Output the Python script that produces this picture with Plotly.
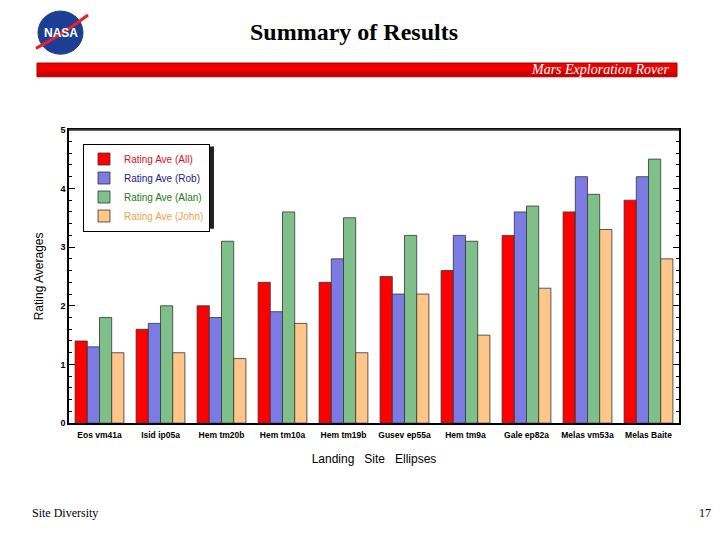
import plotly.graph_objects as go

sites = ["Eos vm41a", "Isid ip05a", "Hem tm20b", "Hem tm10a", "Hem tm19b",
         "Gusev ep55a", "Hem tm9a", "Gale ep82a", "Melas vm53a", "Melas Baite"]
ave_all = [1.4, 1.6, 2.0, 2.4, 2.4, 2.5, 2.6, 3.2, 3.6, 3.8]
ave_rob = [1.3, 1.7, 1.8, 1.9, 2.8, 2.2, 3.2, 3.6, 4.2, 4.2]
ave_alan = [1.8, 2.0, 3.1, 3.6, 3.5, 3.2, 3.1, 3.7, 3.9, 4.5]
ave_john = [1.2, 1.2, 1.1, 1.7, 1.2, 2.2, 1.5, 2.3, 3.3, 2.8]

series_names = ["Rating Ave (All)", "Rating Ave (Rob)", "Rating Ave (Alan)", "Rating Ave (John)"]
series_vals = [ave_all, ave_rob, ave_alan, ave_john]
bar_colors = ["#FF0000", "#7B7BE3", "#7FC08A", "#FFC68A"]
text_colors = ["#E0101A", "#1A1A8C", "#1A7A1A", "#F0A050"]

# page has an 8px body margin; figure is sized so it ends at the window edge
OFF = 8
W, H = 720 - OFF, 540 - OFF
def px(x): return (x - OFF) / W
def py(y): return 1 - (y - OFF) / H

fig = go.Figure()
for name, vals, bc, tc in zip(series_names, series_vals, bar_colors, text_colors):
    fig.add_trace(go.Bar(
        x=sites, y=vals,
        name=f"<span style='color:{tc}'>{name}</span>",
        marker=dict(color=bc, line=dict(color="#333333", width=0.8)),
    ))

PT, PB = 127, 426  # plot frame top / bottom
shapes = []
# legend shadow
shapes.append(dict(type="rect", xref="paper", yref="paper",
                   x0=px(86), x1=px(86 + 128), y0=py(144 + 84), y1=py(144),
                   fillcolor="#222222", line=dict(width=0), layer="above"))
# red header bar
shapes.append(dict(type="rect", xref="paper", yref="paper",
                   x0=px(37), x1=px(677), y0=py(73), y1=py(59),
                   fillcolor="#EE0000", line=dict(color="#A00000", width=1)))
shapes.append(dict(type="rect", xref="paper", yref="paper",
                   x0=px(37.5), x1=px(676.5), y0=py(72.5), y1=py(68),
                   fillcolor="#C80000", line=dict(width=0)))
# NASA logo circle
shapes.append(dict(type="circle", xref="paper", yref="paper",
                   x0=px(38), x1=px(83), y0=py(50), y1=py(6),
                   fillcolor="#1C3F94", line=dict(color="#1C3F94", width=1)))
shapes.append(dict(type="path", xref="paper", yref="paper",
                   path=f"M {px(36)},{py(44)} Q {px(62)},{py(30)} {px(88)},{py(10)}",
                   line=dict(color="#E8202A", width=3)))
# thicker top frame line
shapes.append(dict(type="line", xref="paper", yref="paper",
                   x0=px(69), x1=px(679), y0=py(PT), y1=py(PT),
                   line=dict(color="#333333", width=2.2)))

annotations = [
    dict(text="<b>Summary of Results</b>", x=px(354), y=py(27), xref="paper", yref="paper",
         showarrow=False, font=dict(family="Liberation Serif", size=24, color="black"),
         xanchor="center", yanchor="middle"),
    dict(text="<i>Mars Exploration Rover</i>", x=px(671), y=py(66), xref="paper", yref="paper",
         showarrow=False, font=dict(family="Liberation Serif", size=14, color="white"),
         xanchor="right", yanchor="middle"),
    dict(text="<b>NASA</b>", x=px(61), y=py(28), xref="paper", yref="paper",
         showarrow=False, font=dict(family="Liberation Sans", size=12, color="white"),
         xanchor="center", yanchor="middle"),
    dict(text="Site Diversity", x=px(30), y=py(518), xref="paper", yref="paper",
         showarrow=False, font=dict(family="Liberation Serif", size=12, color="black"),
         xanchor="left", yanchor="middle"),
    dict(text="17", x=px(713), y=py(518), xref="paper", yref="paper",
         showarrow=False, font=dict(family="Liberation Serif", size=12, color="black"),
         xanchor="right", yanchor="middle"),
]

fig.update_layout(
    width=W, height=H,
    margin=dict(l=0, r=0, t=0, b=0),
    paper_bgcolor="white", plot_bgcolor="white",
    barmode="group", bargap=0.2, bargroupgap=0,
    font=dict(family="Liberation Sans", size=9, color="black"),
    shapes=shapes, annotations=annotations,
    legend=dict(x=px(83), y=py(141), xanchor="left", yanchor="top",
                bgcolor="white", bordercolor="black", borderwidth=1,
                font=dict(family="Liberation Sans", size=10),
                itemclick=False),
    xaxis=dict(domain=[px(69), px(679)], showline=True, linecolor="black", linewidth=1.5,
               mirror=True, ticks="", tickfont=dict(size=8.5, family="Liberation Sans"),
               tickangle=0, ticklabelstandoff=3,
               title=dict(text="Landing&nbsp;&nbsp;&nbsp;Site&nbsp;&nbsp;&nbsp;Ellipses",
                          font=dict(size=12, family="Liberation Sans"), standoff=16)),
    yaxis=dict(domain=[py(PB), py(PT)], range=[0, 5], dtick=1, showgrid=False,
               zeroline=False, showline=True, linecolor="black", linewidth=1.5, mirror="ticks",
               ticks="inside", ticklen=6, tickcolor="black",
               minor=dict(dtick=0.2, ticks="inside", ticklen=3, tickcolor="black"),
               tickfont=dict(size=9, family="Liberation Sans"),
               title=dict(text="Rating Averages", font=dict(size=12, family="Liberation Sans"),
                          standoff=14)),
)
fig.update_xaxes(tickprefix="<b>", ticksuffix="</b>")
fig.update_yaxes(tickprefix="<b>", ticksuffix="</b>")

fig.write_html("out.html")
